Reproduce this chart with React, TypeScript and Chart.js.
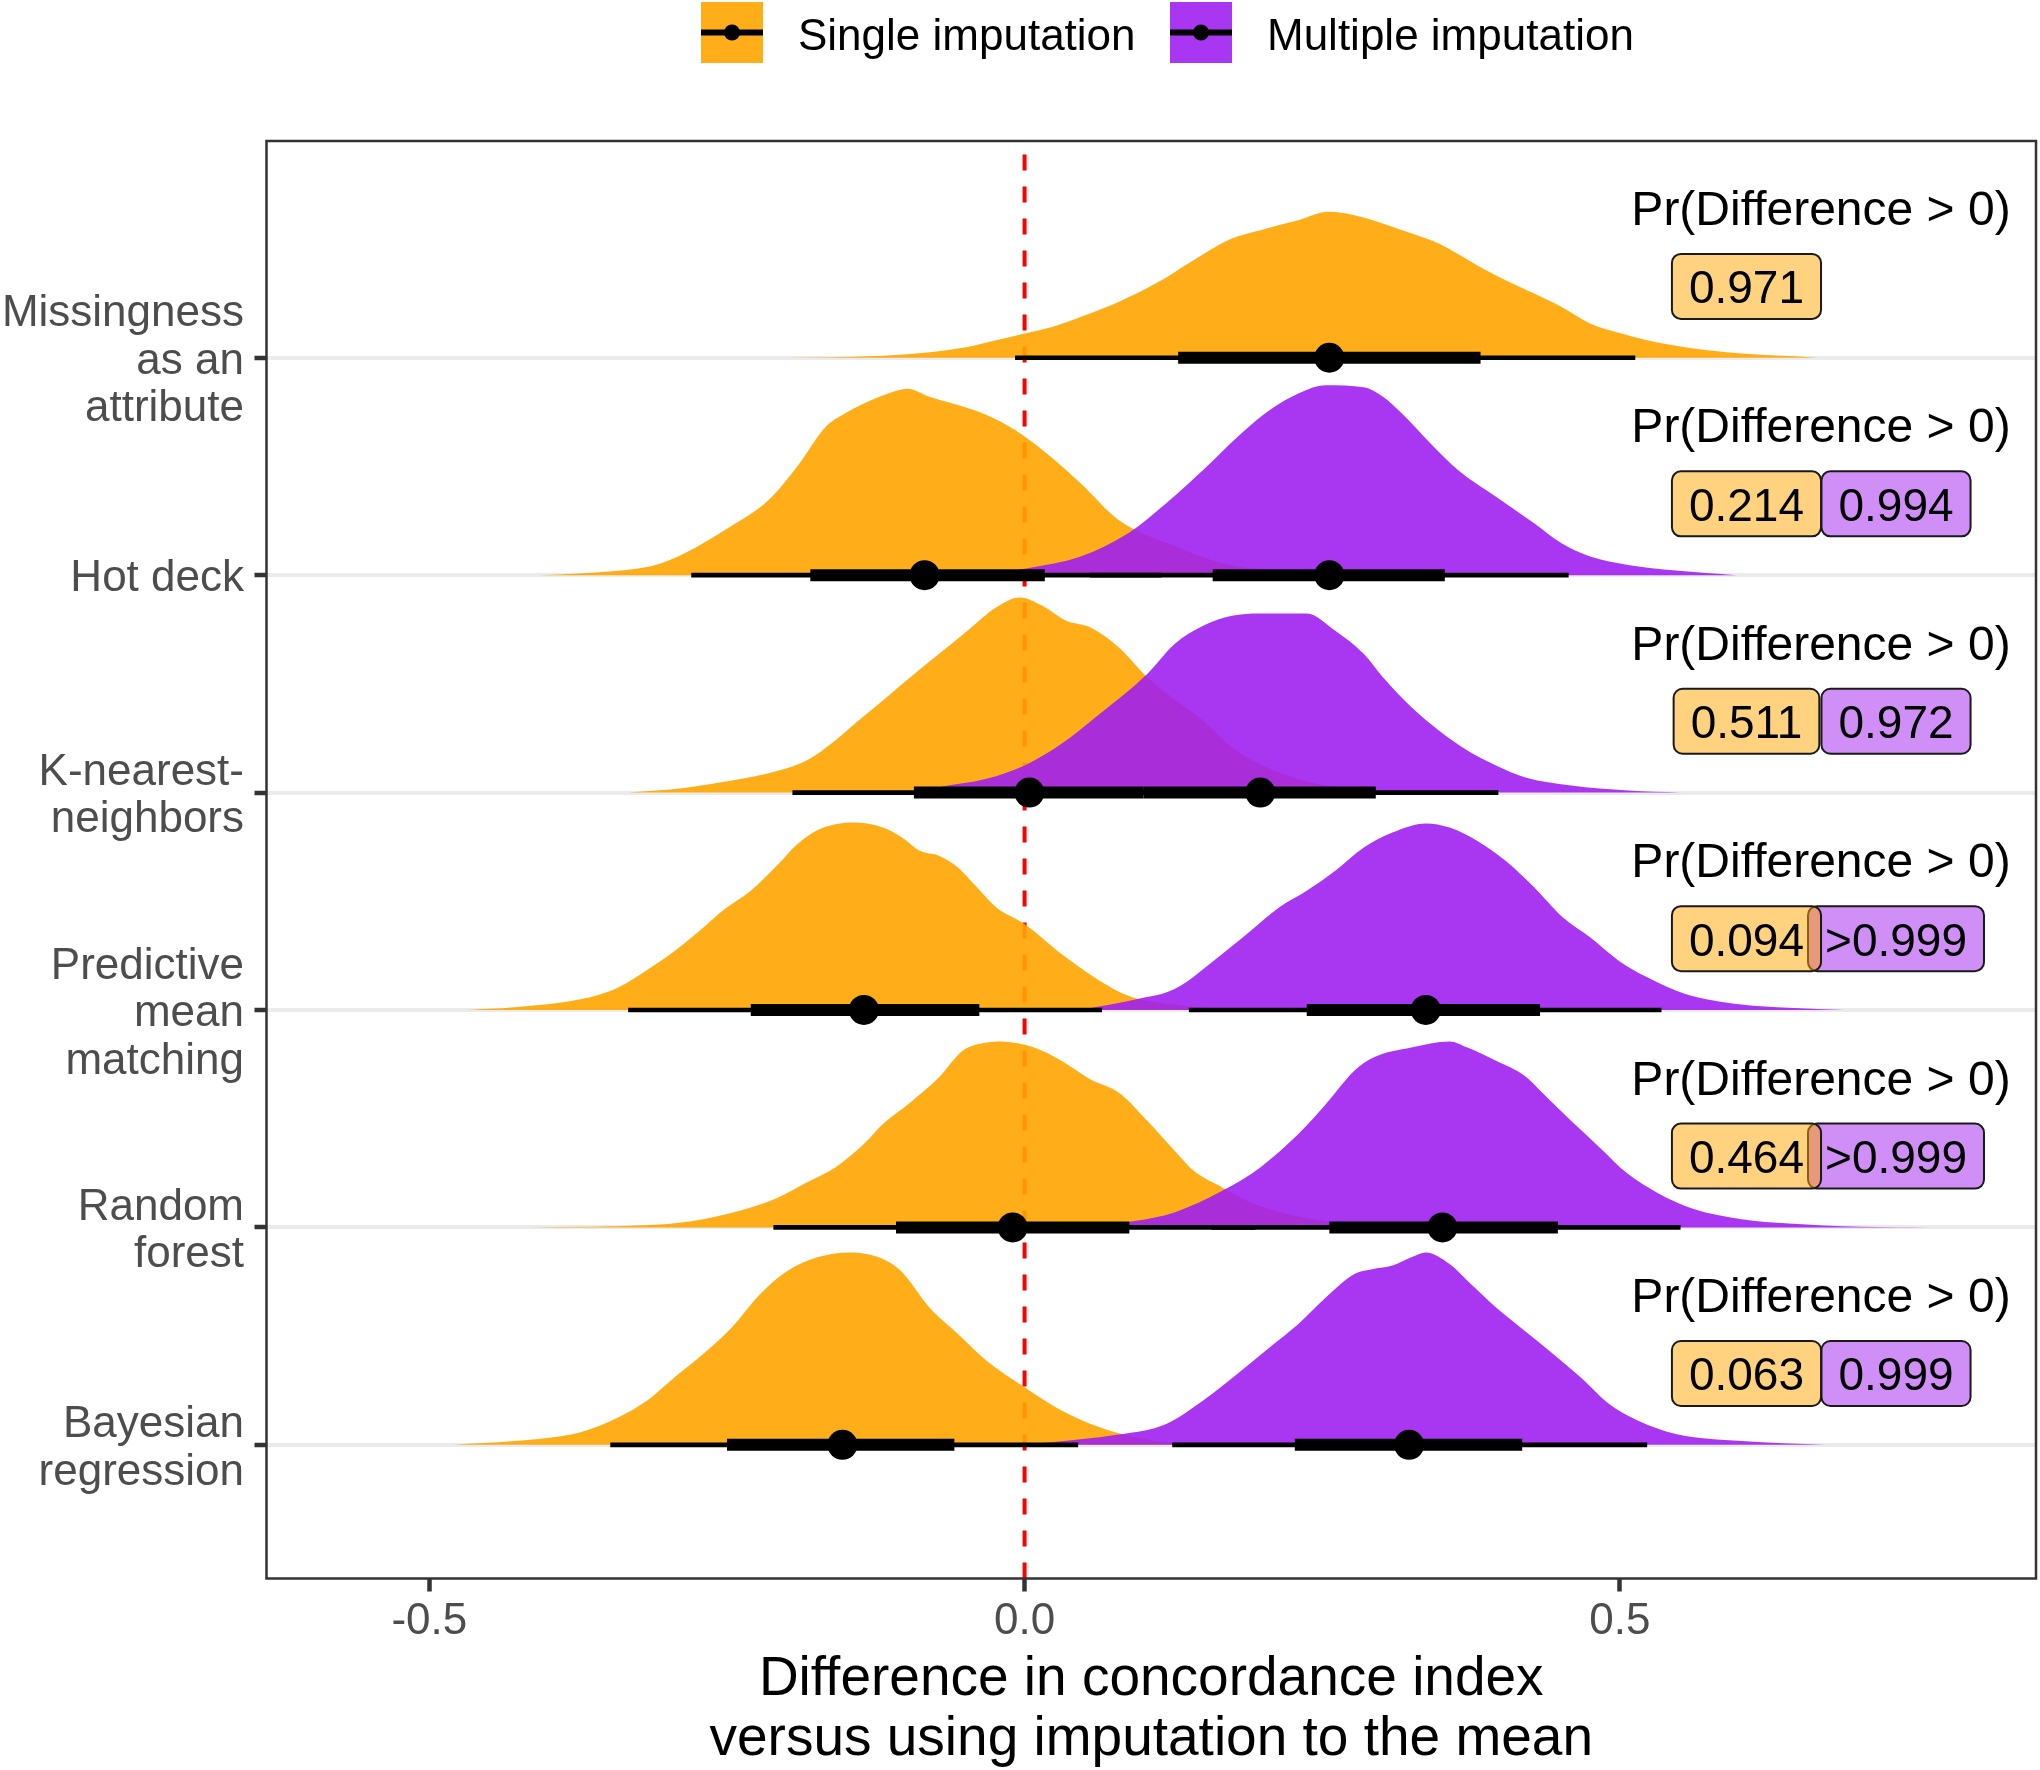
import React, { useEffect, useRef } from 'react';
import { Chart, registerables } from 'chart.js';

Chart.register(...registerables);

const FONT = '"Liberation Sans", Arial, Helvetica, sans-serif';

// ---------- categories / ticks ----------
const categories = [
  'Missingness as an attribute',
  'Hot deck',
  'K-nearest-neighbors',
  'Predictive mean matching',
  'Random forest',
  'Bayesian regression',
];
const categoryLines = [
  ['Missingness', 'as an', 'attribute'],
  ['Hot deck'],
  ['K-nearest-', 'neighbors'],
  ['Predictive', 'mean', 'matching'],
  ['Random', 'forest'],
  ['Bayesian', 'regression'],
];
const rowValues = [6, 5, 4, 3, 2, 1];
const xTicks = [-0.5, 0, 0.5];
const xTickLabels = ['-0.5', '0.0', '0.5'];
const xTitleLines = ['Difference in concordance index', 'versus using imputation to the mean'];
const seriesNames = ['Single imputation', 'Multiple imputation'];

// ---------- density slabs (x, height in row units) ----------
const missSingleX = [-0.22, -0.143, -0.096, -0.048, -0.024, 0, 0.023, 0.047, 0.079, 0.11, 0.142, 0.174, 0.198, 0.23, 0.255, 0.277, 0.317, 0.348, 0.38, 0.404, 0.428, 0.451, 0.475, 0.499, 0.523, 0.562, 0.602, 0.642, 0.666];
const missSingleH = [0, 0.005, 0.017, 0.05, 0.081, 0.112, 0.142, 0.188, 0.257, 0.341, 0.449, 0.548, 0.587, 0.632, 0.671, 0.655, 0.587, 0.525, 0.426, 0.357, 0.295, 0.234, 0.158, 0.115, 0.081, 0.043, 0.02, 0.008, 0];

const hotSingleX = [-0.407, -0.349, -0.31, -0.286, -0.247, -0.215, -0.191, -0.167, -0.151, -0.135, -0.111, -0.098, -0.08, -0.056, -0.032, -0.008, 0.015, 0.047, 0.079, 0.127, 0.166, 0.206, 0.245, 0.285];
const hotSingleH = [0, 0.017, 0.047, 0.1, 0.224, 0.346, 0.5, 0.683, 0.744, 0.79, 0.843, 0.858, 0.821, 0.783, 0.737, 0.668, 0.576, 0.423, 0.254, 0.132, 0.055, 0.021, 0.006, 0];
const hotMultX = [-0.032, 0, 0.047, 0.087, 0.119, 0.15, 0.182, 0.206, 0.23, 0.253, 0.285, 0.301, 0.317, 0.341, 0.364, 0.396, 0.428, 0.451, 0.475, 0.507, 0.547, 0.598];
const hotMultH = [0, 0.03, 0.086, 0.193, 0.331, 0.484, 0.652, 0.76, 0.836, 0.874, 0.864, 0.821, 0.744, 0.606, 0.484, 0.361, 0.239, 0.147, 0.086, 0.047, 0.021, 0];

const knnSingleX = [-0.333, -0.286, -0.246, -0.207, -0.183, -0.159, -0.143, -0.119, -0.096, -0.072, -0.048, -0.024, -0.004, 0.015, 0.035, 0.055, 0.079, 0.103, 0.127, 0.15, 0.174, 0.206, 0.245, 0.285, 0.325];
const knnSingleH = [0, 0.021, 0.055, 0.1, 0.147, 0.239, 0.315, 0.423, 0.53, 0.637, 0.744, 0.851, 0.897, 0.859, 0.79, 0.76, 0.668, 0.53, 0.423, 0.331, 0.208, 0.109, 0.04, 0.012, 0];
const knnMultX = [-0.096, -0.072, -0.032, 0, 0.031, 0.063, 0.103, 0.126, 0.15, 0.174, 0.198, 0.237, 0.261, 0.285, 0.301, 0.325, 0.348, 0.372, 0.396, 0.42, 0.459, 0.507, 0.551];
const knnMultH = [0, 0.025, 0.063, 0.124, 0.224, 0.361, 0.545, 0.683, 0.767, 0.813, 0.824, 0.824, 0.744, 0.637, 0.53, 0.392, 0.285, 0.193, 0.124, 0.07, 0.032, 0.009, 0];

const pmmSingleX = [-0.468, -0.429, -0.365, -0.341, -0.318, -0.294, -0.27, -0.254, -0.23, -0.207, -0.191, -0.175, -0.159, -0.143, -0.119, -0.103, -0.088, -0.072, -0.056, -0.04, -0.024, 0, 0.031, 0.063, 0.087, 0.126, 0.166, 0.206];
const pmmSingleH = [0, 0.012, 0.058, 0.104, 0.18, 0.271, 0.378, 0.455, 0.548, 0.67, 0.762, 0.824, 0.854, 0.862, 0.839, 0.793, 0.732, 0.709, 0.655, 0.564, 0.472, 0.395, 0.257, 0.135, 0.066, 0.025, 0.005, 0];
const pmmMultX = [0.047, 0.095, 0.126, 0.166, 0.19, 0.214, 0.237, 0.261, 0.285, 0.309, 0.337, 0.357, 0.38, 0.404, 0.428, 0.452, 0.475, 0.499, 0.523, 0.555, 0.602, 0.642, 0.689];
const pmmMultH = [0, 0.05, 0.096, 0.257, 0.364, 0.472, 0.548, 0.64, 0.747, 0.816, 0.858, 0.839, 0.778, 0.686, 0.564, 0.426, 0.334, 0.227, 0.15, 0.074, 0.025, 0.01, 0];

const rfSingleX = [-0.417, -0.31, -0.27, -0.23, -0.207, -0.183, -0.159, -0.135, -0.119, -0.096, -0.072, -0.052, -0.032, -0.02, 0.008, 0.031, 0.055, 0.079, 0.103, 0.126, 0.142, 0.166, 0.19, 0.221, 0.261, 0.325];
const rfSingleH = [0, 0.012, 0.038, 0.092, 0.138, 0.207, 0.276, 0.383, 0.475, 0.574, 0.689, 0.812, 0.85, 0.855, 0.827, 0.766, 0.681, 0.62, 0.49, 0.352, 0.26, 0.184, 0.115, 0.061, 0.023, 0];
const rfMultX = [0.047, 0.091, 0.126, 0.166, 0.198, 0.23, 0.253, 0.277, 0.293, 0.325, 0.357, 0.372, 0.396, 0.42, 0.436, 0.459, 0.483, 0.507, 0.531, 0.562, 0.602, 0.642, 0.701, 0.76];
const rfMultH = [0, 0.028, 0.069, 0.168, 0.276, 0.429, 0.566, 0.72, 0.781, 0.827, 0.855, 0.827, 0.766, 0.697, 0.613, 0.49, 0.368, 0.245, 0.161, 0.084, 0.038, 0.018, 0.003, 0];

const bayesSingleX = [-0.48, -0.429, -0.373, -0.341, -0.317, -0.294, -0.27, -0.246, -0.222, -0.199, -0.175, -0.147, -0.119, -0.104, -0.08, -0.056, -0.032, 0, 0.031, 0.063, 0.095, 0.126, 0.16];
const bayesSingleH = [0, 0.017, 0.058, 0.127, 0.204, 0.311, 0.418, 0.54, 0.694, 0.8, 0.861, 0.885, 0.855, 0.8, 0.632, 0.51, 0.387, 0.265, 0.158, 0.081, 0.032, 0.008, 0];
const bayesMultX = [0, 0.015, 0.079, 0.119, 0.15, 0.182, 0.206, 0.23, 0.253, 0.277, 0.293, 0.309, 0.325, 0.337, 0.357, 0.372, 0.396, 0.42, 0.444, 0.467, 0.491, 0.515, 0.547, 0.602, 0.673];
const bayesMultH = [0, 0.008, 0.047, 0.096, 0.204, 0.341, 0.449, 0.556, 0.678, 0.786, 0.809, 0.825, 0.863, 0.885, 0.832, 0.755, 0.632, 0.525, 0.418, 0.311, 0.188, 0.112, 0.05, 0.017, 0];

// ---------- point intervals (median, 66% and 95%) ----------
const singleMedian = [0.256, -0.084, 0.004, -0.135, -0.01, -0.153];
const singleInnerLo = [0.129, -0.18, -0.093, -0.23, -0.108, -0.25];
const singleInnerHi = [0.383, 0.017, 0.1, -0.038, 0.088, -0.059];
const singleOuterLo = [-0.008, -0.28, -0.195, -0.333, -0.211, -0.348];
const singleOuterHi = [0.513, 0.115, 0.2, 0.065, 0.194, 0.045];
const multMedian = [null, 0.256, 0.198, 0.337, 0.351, 0.323];
const multInnerLo = [null, 0.158, 0.1, 0.237, 0.256, 0.227];
const multInnerHi = [null, 0.353, 0.295, 0.433, 0.448, 0.418];
const multOuterLo = [null, 0.055, 0.0, 0.138, 0.157, 0.124];
const multOuterHi = [null, 0.457, 0.398, 0.535, 0.551, 0.523];

// ---------- probability labels ----------
const probSingle = ['0.971', '0.214', '0.511', '0.094', '0.464', '0.063'];
const probMultiple = [null, '0.994', '0.972', '>0.999', '>0.999', '0.999'];

// ---------- styles ----------
const ORANGE = 'rgba(255,165,0,0.9)';
const PURPLE = 'rgba(160,32,240,0.9)';
const ORANGE_LABEL = 'rgba(255,165,0,0.5)';
const PURPLE_LABEL = 'rgba(160,32,240,0.5)';
const PR_X = 0.669;
const SINGLE_BOX_X = 0.6064;
const MULT_BOX_X = 0.732;
const PR_OFFSET = 0.611;
const BOX_OFFSET = 0.328;

const singleSlabs = [
  [missSingleX, missSingleH],
  [hotSingleX, hotSingleH],
  [knnSingleX, knnSingleH],
  [pmmSingleX, pmmSingleH],
  [rfSingleX, rfSingleH],
  [bayesSingleX, bayesSingleH],
];
const multSlabs = [
  null,
  [hotMultX, hotMultH],
  [knnMultX, knnMultH],
  [pmmMultX, pmmMultH],
  [rfMultX, rfMultH],
  [bayesMultX, bayesMultH],
];

function slabDataset(xs: number[], hs: number[], row: number, color: string, order: number, label: string) {
  return {
    label,
    data: xs.map((x, i) => ({ x, y: row + hs[i] })),
    fill: { value: row },
    backgroundColor: color,
    borderColor: 'rgba(0,0,0,0)',
    borderWidth: 0,
    pointRadius: 0,
    cubicInterpolationMode: 'monotone',
    order,
  };
}

function segDataset(lo: number, hi: number, row: number, width: number, order: number) {
  return {
    data: [{ x: lo, y: row }, { x: hi, y: row }],
    borderColor: '#000000',
    borderWidth: width,
    borderCapStyle: 'butt',
    pointRadius: 0,
    fill: false,
    order,
  };
}

function pointDataset(m: number, row: number) {
  return {
    data: [{ x: m, y: row }],
    showLine: false,
    pointRadius: 15,
    pointBackgroundColor: '#000000',
    pointBorderWidth: 0,
    pointBorderColor: '#000000',
    order: 1,
  };
}

function roundRectPath(ctx: CanvasRenderingContext2D, x: number, y: number, w: number, h: number, r: number) {
  ctx.beginPath();
  ctx.moveTo(x + r, y);
  ctx.lineTo(x + w - r, y);
  ctx.arcTo(x + w, y, x + w, y + r, r);
  ctx.lineTo(x + w, y + h - r);
  ctx.arcTo(x + w, y + h, x + w - r, y + h, r);
  ctx.lineTo(x + r, y + h);
  ctx.arcTo(x, y + h, x, y + h - r, r);
  ctx.lineTo(x, y + r);
  ctx.arcTo(x, y, x + r, y, r);
  ctx.closePath();
}

function drawLabelBox(ctx: CanvasRenderingContext2D, text: string, cx: number, cy: number, fill: string) {
  ctx.font = `46px ${FONT}`;
  const w = ctx.measureText(text).width + 34;
  const h = 65;
  roundRectPath(ctx, cx - w / 2, cy - h / 2, w, h, 9);
  ctx.fillStyle = fill;
  ctx.fill();
  ctx.lineWidth = 2;
  ctx.strokeStyle = '#1A1A1A';
  ctx.stroke();
  ctx.fillStyle = '#000000';
  ctx.textAlign = 'center';
  ctx.textBaseline = 'alphabetic';
  ctx.fillText(text, cx, cy + 17);
}

const annotPlugin = {
  id: 'annot',
  afterDatasetsDraw(chart: any) {
    const { ctx, chartArea, scales } = chart;
    const xs = scales.x;
    const ys = scales.y;
    ctx.save();
    // panel border
    ctx.strokeStyle = '#333333';
    ctx.lineWidth = 2.5;
    ctx.strokeRect(chartArea.left, chartArea.top, chartArea.right - chartArea.left, chartArea.bottom - chartArea.top);
    // probability annotations
    rowValues.forEach((row, i) => {
      ctx.font = `48px ${FONT}`;
      ctx.fillStyle = '#000000';
      ctx.textAlign = 'center';
      ctx.textBaseline = 'alphabetic';
      ctx.fillText('Pr(Difference > 0)', xs.getPixelForValue(PR_X), ys.getPixelForValue(row + PR_OFFSET));
      const cy = ys.getPixelForValue(row + BOX_OFFSET);
      const pm = probMultiple[i];
      if (pm) drawLabelBox(ctx, pm, xs.getPixelForValue(MULT_BOX_X), cy, PURPLE_LABEL);
      drawLabelBox(ctx, probSingle[i], xs.getPixelForValue(SINGLE_BOX_X), cy, ORANGE_LABEL);
    });
    ctx.restore();
  },
  afterDraw(chart: any) {
    const { ctx } = chart;
    ctx.save();
    const items = [
      { label: seriesNames[0], color: ORANGE, keyX: 701, textX: 798 },
      { label: seriesNames[1], color: PURPLE, keyX: 1170, textX: 1267 },
    ];
    items.forEach((it) => {
      ctx.fillStyle = it.color;
      ctx.fillRect(it.keyX, 2, 62, 61);
      ctx.fillStyle = '#000000';
      ctx.fillRect(it.keyX, 29.5, 62, 6);
      ctx.beginPath();
      ctx.arc(it.keyX + 31, 32.5, 8, 0, Math.PI * 2);
      ctx.fill();
      ctx.font = `44px ${FONT}`;
      ctx.textAlign = 'left';
      ctx.textBaseline = 'alphabetic';
      ctx.fillText(it.label, it.textX, 50);
    });
    ctx.restore();
  },
};

export default function App() {
  const ref = useRef<HTMLCanvasElement>(null);
  useEffect(() => {
    const canvas = ref.current;
    if (!canvas) return;
    Chart.defaults.font.family = FONT;
    const yMin = 0.385;
    const yMax = 6.997;
    const datasets: any[] = [];
    // reference line at zero
    datasets.push({
      data: [{ x: 0, y: yMin }, { x: 0, y: yMax }],
      borderColor: '#FF0000',
      borderWidth: 4,
      borderDash: [16, 16],
      pointRadius: 0,
      fill: false,
      order: 10,
    });
    rowValues.forEach((row, i) => {
      const s = singleSlabs[i];
      datasets.push(slabDataset(s[0], s[1], row, ORANGE, 9, seriesNames[0] + ' ' + categories[i]));
      const m = multSlabs[i];
      if (m) datasets.push(slabDataset(m[0], m[1], row, PURPLE, 8, seriesNames[1] + ' ' + categories[i]));
    });
    rowValues.forEach((row, i) => {
      datasets.push(segDataset(singleOuterLo[i], singleOuterHi[i], row, 4.7, 3));
      datasets.push(segDataset(singleInnerLo[i], singleInnerHi[i], row, 12, 2));
      datasets.push(pointDataset(singleMedian[i], row));
      if (multMedian[i] !== null) {
        datasets.push(segDataset(multOuterLo[i] as number, multOuterHi[i] as number, row, 4.7, 3));
        datasets.push(segDataset(multInnerLo[i] as number, multInnerHi[i] as number, row, 12, 2));
        datasets.push(pointDataset(multMedian[i] as number, row));
      }
    });
    const yTickValues = [...rowValues].sort((a, b) => a - b);
    const chart = new Chart(canvas, {
      type: 'line',
      data: { datasets },
      options: {
        animation: false,
        responsive: false,
        devicePixelRatio: 1,
        layout: { autoPadding: false, padding: { top: 141, right: 4, bottom: 0, left: 0 } },
        plugins: { legend: { display: false }, tooltip: { enabled: false } },
        scales: {
          x: {
            type: 'linear',
            min: -0.6368,
            max: 0.8496,
            afterBuildTicks: (s: any) => { s.ticks = xTicks.map((v) => ({ value: v })); },
            afterFit: (s: any) => { s.height = 191.5; s.paddingLeft = 0; s.paddingRight = 0; },
            border: { display: false },
            grid: { drawOnChartArea: false, tickColor: '#333333', tickWidth: 4.5, tickLength: 13 },
            ticks: {
              color: '#4D4D4D',
              font: { size: 44, lineHeight: 1.2 },
              padding: 4,
              maxRotation: 0,
              autoSkip: false,
              callback: (v: any) => { const k = xTicks.indexOf(Number(v)); return k >= 0 ? xTickLabels[k] : ''; },
            },
            title: {
              display: true,
              text: xTitleLines,
              color: '#000000',
              font: { size: 55, lineHeight: 1.09 },
              padding: { top: 0, bottom: 0 },
            },
          },
          y: {
            type: 'linear',
            min: yMin,
            max: yMax,
            afterBuildTicks: (s: any) => { s.ticks = yTickValues.map((v) => ({ value: v })); },
            afterFit: (s: any) => { s.width = 266.5; s.paddingTop = 0; s.paddingBottom = 0; },
            border: { display: false },
            grid: { color: '#EBEBEB', lineWidth: 4, tickColor: '#333333', tickWidth: 4.5, tickLength: 12 },
            ticks: {
              color: '#4D4D4D',
              font: { size: 44, lineHeight: 1.08 },
              padding: 10.5,
              labelOffset: 4,
              autoSkip: false,
              callback: (v: any) => { const k = rowValues.indexOf(Number(v)); return k >= 0 ? categoryLines[k] : ''; },
            },
          },
        },
      } as any,
      plugins: [annotPlugin as any],
    });
    return () => chart.destroy();
  }, []);
  return (
    <div style={{ position: 'absolute', left: 0, top: 0, width: 2040, height: 1770, background: '#ffffff' }}>
      <canvas ref={ref} width={2040} height={1770} style={{ display: 'block', width: 2040, height: 1770 }} />
    </div>
  );
}
